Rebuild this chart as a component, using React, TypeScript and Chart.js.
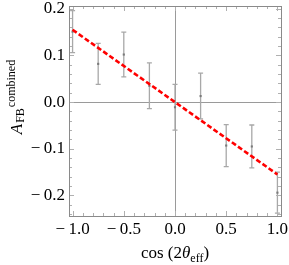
import React, { useEffect, useRef } from "react";
import { Chart, registerables } from "chart.js";

Chart.register(...registerables);

// ---- data ----
const xValues = [-1, -0.75, -0.5, -0.25, 0, 0.25, 0.5, 0.75, 1];
const yValues = [0.151, 0.082, 0.102, 0.035, -0.011, 0.013, -0.093, -0.095, -0.194];
const yErrors = [0.045, 0.044, 0.048, 0.049, 0.049, 0.049, 0.045, 0.046, 0.044];
const fitX = [-1, 1];
const fitY = [0.155, -0.155];
const xTicks = [-1, -0.5, 0, 0.5, 1];
const yTicks = [-0.2, -0.1, 0, 0.1, 0.2];
const xMinorTicks = [-1, -0.9, -0.8, -0.7, -0.6, -0.5, -0.4, -0.3, -0.2, -0.1, 0, 0.1, 0.2, 0.3, 0.4, 0.5, 0.6, 0.7, 0.8, 0.9, 1];
const yMinorTicks = [-0.24, -0.22, -0.2, -0.18, -0.16, -0.14, -0.12, -0.1, -0.08, -0.06, -0.04, -0.02, 0, 0.02, 0.04, 0.06, 0.08, 0.1, 0.12, 0.14, 0.16, 0.18, 0.2];

const SERIF = "'Liberation Serif', 'Times New Roman', serif";
const fmt = (v: number) => (v < 0 ? "\u2212\u2009" : "") + Math.abs(v).toFixed(1);

const zeroPad = (s: any) => {
  s.paddingTop = 0;
  s.paddingBottom = 0;
  s.paddingLeft = 0;
  s.paddingRight = 0;
};

const decor = {
  id: "decor",
  beforeDatasetsDraw(chart: any) {
    const { ctx, chartArea: a, scales } = chart;
    const x = scales.x, y = scales.y;
    ctx.save();
    // zero axes
    ctx.strokeStyle = "#9a9a9a";
    ctx.lineWidth = 1;
    const x0 = Math.round(x.getPixelForValue(0)) + 0.5;
    const y0 = Math.round(y.getPixelForValue(0)) + 0.5;
    ctx.beginPath();
    ctx.moveTo(x0, a.top);
    ctx.lineTo(x0, a.bottom);
    ctx.moveTo(a.left, y0);
    ctx.lineTo(a.right, y0);
    ctx.stroke();
    // error bars
    ctx.strokeStyle = "#a8a8a8";
    ctx.lineWidth = 1.3;
    for (let i = 0; i < xValues.length; i++) {
      const px = x.getPixelForValue(xValues[i]);
      const t = y.getPixelForValue(yValues[i] + yErrors[i]);
      const b = y.getPixelForValue(yValues[i] - yErrors[i]);
      ctx.beginPath();
      ctx.moveTo(px, t);
      ctx.lineTo(px, b);
      ctx.moveTo(px - 2.5, t);
      ctx.lineTo(px + 2.5, t);
      ctx.moveTo(px - 2.5, b);
      ctx.lineTo(px + 2.5, b);
      ctx.stroke();
    }
    ctx.restore();
  },
  afterDraw(chart: any) {
    const { ctx, chartArea: a, scales } = chart;
    const x = scales.x, y = scales.y;
    ctx.save();
    // ticks
    ctx.strokeStyle = "#b0b0b0";
    ctx.lineWidth = 1;
    ctx.beginPath();
    xMinorTicks.forEach((v) => {
      const px = Math.round(x.getPixelForValue(v)) + 0.5;
      const major = xTicks.some((m) => Math.abs(m - v) < 1e-9);
      const len = major ? 5 : 3;
      ctx.moveTo(px, a.bottom);
      ctx.lineTo(px, a.bottom - len);
      ctx.moveTo(px, a.top);
      ctx.lineTo(px, a.top + len);
    });
    yMinorTicks.forEach((v) => {
      const py = Math.round(y.getPixelForValue(v)) + 0.5;
      const major = yTicks.some((m) => Math.abs(m - v) < 1e-9);
      const len = major ? 5 : 3;
      ctx.moveTo(a.left, py);
      ctx.lineTo(a.left + len, py);
      ctx.moveTo(a.right, py);
      ctx.lineTo(a.right - len, py);
    });
    ctx.stroke();
    // frame
    ctx.strokeStyle = "#8a8a8a";
    ctx.strokeRect(Math.round(a.left) + 0.5, Math.round(a.top) + 0.5, Math.round(a.right - a.left), Math.round(a.bottom - a.top));

    // y title
    ctx.fillStyle = "#000";
    ctx.textBaseline = "alphabetic";
    ctx.textAlign = "left";
    const cy = 97;
    ctx.translate(22, cy);
    ctx.rotate(-Math.PI / 2);
    const fA = `italic 17px ${SERIF}`;
    const fS = `12px ${SERIF}`;
    ctx.font = fA;
    const wA = ctx.measureText("A").width;
    ctx.font = fS;
    const wFB = ctx.measureText("FB").width;
    const wC = ctx.measureText("combined").width;
    const total = wA + 1 + wFB + 1 + wC;
    let cx = -total / 2;
    ctx.font = fA;
    ctx.fillText("A", cx, 0);
    cx += wA + 1;
    ctx.font = fS;
    ctx.fillText("FB", cx, 2);
    cx += wFB + 1;
    ctx.fillText("combined", cx, -7);
    ctx.setTransform(1, 0, 0, 1, 0, 0);

    // x title
    const fM = `17px ${SERIF}`;
    const fI = `italic 17px ${SERIF}`;
    const parts: [string, string, number][] = [
      ["cos (2", fM, 0],
      ["\u03b8", fI, 0],
      ["eff", fS, 4],
      [")", fM, 0],
    ];
    let tw = 0;
    const widths = parts.map(([t, f]) => {
      ctx.font = f;
      const w = ctx.measureText(t).width;
      tw += w;
      return w;
    });
    let xx = 175 - tw / 2;
    const base = 257.5;
    parts.forEach(([t, f, dy], i) => {
      ctx.font = f;
      ctx.fillText(t, xx, base + dy);
      xx += widths[i];
    });
    ctx.restore();
  },
};

export default function App() {
  const ref = useRef<HTMLCanvasElement | null>(null);
  useEffect(() => {
    if (!ref.current) return;
    const chart = new Chart(ref.current, {
      type: "scatter",
      data: {
        datasets: [
          {
            type: "line",
            data: fitX.map((v, i) => ({ x: v, y: fitY[i] })),
            borderColor: "#ff0000",
            borderWidth: 2.6,
            borderDash: [5, 2.5],
            pointRadius: 0,
            fill: false,
            order: 0,
          },
          {
            data: xValues.map((v, i) => ({ x: v, y: yValues[i] })),
            backgroundColor: "#7a7a7a",
            borderColor: "#7a7a7a",
            pointRadius: 1.5,
            pointStyle: "rect",
            borderWidth: 0,
            order: 1,
          },
        ],
      },
      options: {
        responsive: false,
        animation: false,
        events: [],
        layout: { padding: { top: 6, right: 8, left: 0, bottom: 0 } },
        plugins: { legend: { display: false }, tooltip: { enabled: false } },
        scales: {
          x: {
            type: "linear",
            min: -1.035,
            max: 1.035,
            grid: { display: false, drawTicks: false },
            border: { display: false },
            afterBuildTicks: (s: any) => {
              s.ticks = xTicks.map((v) => ({ value: v }));
            },
            afterFit: (s: any) => {
              s.height = 49;
              zeroPad(s);
            },
            ticks: {
              padding: 3,
              autoSkip: false,
              maxRotation: 0,
              color: "#000",
              font: { family: SERIF, size: 17 },
              callback: (v: any) => fmt(Number(v)),
            },
          },
          y: {
            type: "linear",
            min: -0.244,
            max: 0.206,
            grid: { display: false, drawTicks: false },
            border: { display: false },
            afterBuildTicks: (s: any) => {
              s.ticks = yTicks.map((v) => ({ value: v }));
            },
            afterFit: (s: any) => {
              s.width = 69;
              zeroPad(s);
            },
            ticks: {
              padding: 4,
              color: "#000",
              font: { family: SERIF, size: 17 },
              callback: (v: any) => fmt(Number(v)),
            },
          },
        },
      },
      plugins: [decor],
    } as any);
    return () => chart.destroy();
  }, []);
  return (
    <div style={{ position: "fixed", left: 0, top: 0, width: 289, height: 265, background: "#fff" }}>
      <canvas ref={ref} width={289} height={265} />
    </div>
  );
}
